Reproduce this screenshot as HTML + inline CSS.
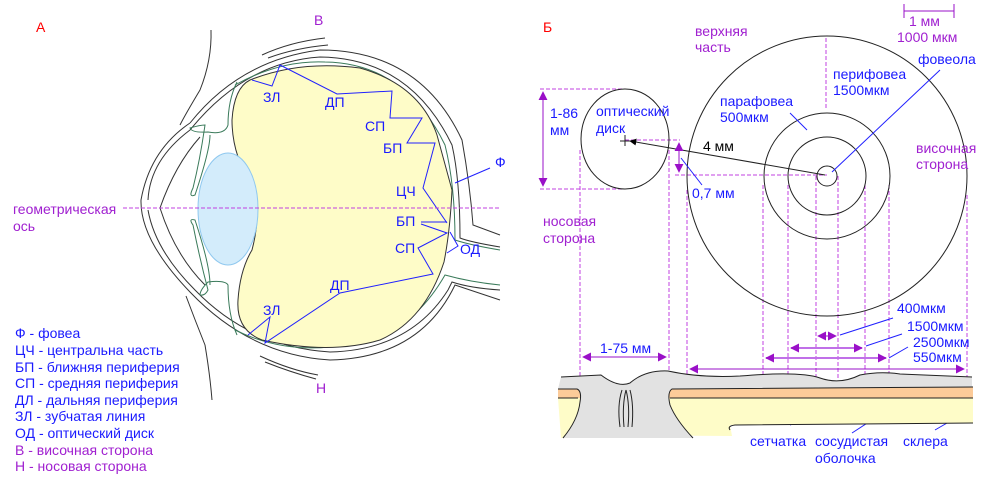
<!DOCTYPE html>
<html><head><meta charset="utf-8"><style>
html,body{margin:0;padding:0;background:#fff;width:987px;height:481px;overflow:hidden}
svg{display:block}
text{font-family:"Liberation Sans",sans-serif;font-size:14px}
.b{fill:#1a1aff}.p{fill:#a020d0}.r{fill:#f00}
</style></head><body>
<svg width="987" height="481" viewBox="0 0 987 481" xmlns="http://www.w3.org/2000/svg">
<defs>
<marker id="pa" viewBox="0 0 10 10" refX="9" refY="5" markerUnits="userSpaceOnUse" markerWidth="9" markerHeight="9" orient="auto-start-reverse"><path d="M0,0 L10,5 L0,10 z" fill="#9a10c8"/></marker>
<marker id="ka" viewBox="0 0 10 10" refX="9" refY="5" markerUnits="userSpaceOnUse" markerWidth="7" markerHeight="7" orient="auto-start-reverse"><path d="M0,0 L10,5 L0,10 z" fill="#000"/></marker>
</defs>
<!-- Eye A -->
<g fill="none" stroke="#333" stroke-width="1">
<path d="M211,30 Q212,60 200,90 Q185,115 180,125"/>
<path d="M186,296 Q195,320 205,345 Q210,375 212,400"/>
<path d="M262,55 Q290,42 325,38"/>
<path d="M268,58 Q295,48 328,45"/>
<path d="M260,356 Q290,370 318,375"/>
<path d="M265,362 Q290,372 316,379"/>
<path d="M190,123 Q150,150 141,200 Q140,240 190,292 Q250,355 330,360 Q420,358 455,285 L500,300"/>
<path d="M190,123 Q240,60 320,50 Q420,50 462,140 Q470,185 473,225 L500,235"/>
<path d="M148,200 Q150,160 190,130 Q245,62 320,57 Q410,58 452,145 Q460,180 460,238 Q470,242 500,247"/>
<path d="M148,210 Q155,250 195,290 Q250,347 330,352 Q410,350 448,290 L452,282 Q470,288 500,290"/>
<path d="M200,137 Q175,165 160,208 Q175,255 205,285"/>
</g>
<g fill="none" stroke="#3a7a5a" stroke-width="1">
<path d="M235,85 Q280,60 325,62 Q405,63 445,145 Q455,185 455,240 Q470,245 500,250"/>
<path d="M235,330 Q280,352 330,347 Q405,345 445,275 Q470,282 500,285"/>
<path d="M237,82 Q228,100 228,125 Q225,135 208,132 Q192,133 190,128 Q200,125 205,125 Q200,160 193,188 Q188,198 195,195 Q210,150 210,135"/>
<path d="M237,335 Q228,315 228,285 Q225,280 208,282 Q200,290 200,295 Q205,296 208,290 Q200,260 193,225 Q188,218 195,220 Q210,265 210,285"/>
</g>
<path d="M250,80 Q300,60 360,68 Q420,85 437,135 L452,190 Q450,232 444,262 Q425,320 380,340 Q330,355 262,340 Q236,330 238,300 Q240,270 252,250 Q262,212 252,185 Q232,155 232,120 Q234,88 250,80 Z" fill="#fefcc8" stroke="#333" stroke-width="1"/>
<ellipse cx="228" cy="209" rx="30" ry="56" fill="#d3ecfb" stroke="#8fc8ef" stroke-width="1"/>
<g fill="none" stroke="#2020ff" stroke-width="1">
<polyline points="252,80 272,86 280,65 337,94 392,91 390,118 422,118 407,143 435,143 423,188 447,223"/>
<polyline points="421,222 447,222"/>
<polyline points="421,224 447,233 418,248 433,274 340,293 265,343 270,317 248,335"/>
<polyline points="455,183 490,168"/>
<polyline points="447,253 458,246 450,232"/>
</g>
<line x1="123" y1="208" x2="500" y2="208" stroke="#c040e0" stroke-dasharray="4,2" stroke-width="1"/>
<text x="36" y="32" class="r">А</text>
<text x="314" y="25" class="p">В</text>
<text x="316" y="393" class="p">Н</text>
<text x="13" y="214" class="p">геометрическая</text>
<text x="13" y="231" class="p">ось</text>
<g class="b">
<text x="263" y="102">ЗЛ</text><text x="325" y="107">ДП</text>
<text x="365" y="131">СП</text><text x="383" y="153">БП</text>
<text x="396" y="196">ЦЧ</text><text x="396" y="226">БП</text>
<text x="395" y="253">СП</text><text x="460" y="254">ОД</text>
<text x="495" y="167">Ф</text>
<text x="330" y="290">ДП</text><text x="263" y="315">ЗЛ</text>
<text x="15" y="338">Ф - фовеа</text>
<text x="15" y="355">ЦЧ - центральна часть</text>
<text x="15" y="372">БП - ближняя периферия</text>
<text x="15" y="388">СП - средняя периферия</text>
<text x="15" y="405">ДЛ - дальняя периферия</text>
<text x="15" y="421">ЗЛ - зубчатая линия</text>
<text x="15" y="438">ОД - оптический диск</text>
</g>
<text x="15" y="455" class="p">В - височная сторона</text>
<text x="15" y="471" class="p">Н - носовая сторона</text>

<!-- B -->
<text x="543" y="32" class="r">Б</text>
<g fill="none" stroke="#c040e0" stroke-dasharray="4,2" stroke-width="1">
<line x1="580" y1="150" x2="580" y2="377"/><line x1="669" y1="150" x2="669" y2="377"/>
<line x1="687" y1="190" x2="687" y2="377"/><line x1="763" y1="185" x2="763" y2="377"/>
<line x1="788" y1="185" x2="788" y2="377"/><line x1="816" y1="176" x2="816" y2="380"/>
<line x1="838" y1="176" x2="838" y2="380"/><line x1="865" y1="185" x2="865" y2="377"/>
<line x1="889" y1="185" x2="889" y2="377"/><line x1="967" y1="195" x2="967" y2="377"/>
<line x1="826" y1="38" x2="826" y2="110"/>
<line x1="540" y1="89" x2="625" y2="89"/><line x1="540" y1="189" x2="625" y2="189"/>
<line x1="625" y1="140" x2="680" y2="140"/><line x1="675" y1="175" x2="827" y2="175"/>
</g>
<g fill="none" stroke="#222" stroke-width="1">
<circle cx="827" cy="176" r="140"/>
<circle cx="827" cy="176" r="63"/>
<circle cx="827" cy="176" r="39"/>
<circle cx="827" cy="176" r="10"/>
<ellipse cx="625" cy="139" rx="44" ry="50"/>
<line x1="825" y1="175" x2="630" y2="141" marker-end="url(#ka)"/>
<line x1="620" y1="141" x2="630" y2="141"/><line x1="625" y1="135" x2="625" y2="146"/>
</g>
<g stroke="#9a10c8" stroke-width="1" fill="none">
<line x1="543" y1="92" x2="543" y2="186" marker-start="url(#pa)" marker-end="url(#pa)"/>
<line x1="679" y1="143" x2="679" y2="172" marker-start="url(#pa)" marker-end="url(#pa)"/>
<line x1="583" y1="357" x2="666" y2="357" marker-start="url(#pa)" marker-end="url(#pa)"/>
<line x1="690" y1="369" x2="964" y2="369" marker-start="url(#pa)" marker-end="url(#pa)"/>
<line x1="766" y1="358" x2="886" y2="358" stroke="#c070e8" stroke-width="2" marker-start="url(#pa)" marker-end="url(#pa)"/>
<line x1="791" y1="348" x2="862" y2="348" stroke="#c070e8" stroke-width="2" marker-start="url(#pa)" marker-end="url(#pa)"/>
<line x1="818" y1="336" x2="836" y2="336" marker-start="url(#pa)" marker-end="url(#pa)"/>
<line x1="904" y1="11" x2="954" y2="11"/><line x1="904" y1="4" x2="904" y2="18"/><line x1="954" y1="4" x2="954" y2="18"/>
</g>
<g stroke="#2020ff" stroke-width="1" fill="none">
<line x1="940" y1="70" x2="832" y2="172"/>
<line x1="790" y1="113" x2="807" y2="130"/>
<line x1="681" y1="158" x2="702" y2="185"/>
<line x1="840" y1="335" x2="893" y2="318"/>
<line x1="866" y1="346" x2="902" y2="334"/>
<line x1="889" y1="358" x2="908" y2="347"/>
<line x1="790" y1="425" x2="887" y2="379"/>
<line x1="852" y1="433" x2="915" y2="392"/>
<line x1="935" y1="430" x2="966" y2="412"/>
</g>
<path d="M558,389 L973,387 L973,398 L558,398 Z" fill="#fccb99"/>
<path d="M558,398 L973,398 L973,423 L730,425 L732,436 L590,435 Q570,436 561,438 Z" fill="#fefcc8"/>
<path d="M561,377 L601,375 Q618,388 630,383 Q645,370 668,371 Q700,378 740,376 Q800,371 820,378 Q840,385 860,375 Q880,371 900,374 L972,377 L972,387 L672,389 Q667,392 670,405 Q676,420 693,438 L563,438 Q578,420 580,402 Q582,391 577,389 L558,389 Z" fill="#e2e2e2" stroke="none"/>
<g fill="none" stroke="#222" stroke-width="1">
<path d="M561,377 L601,375 Q618,388 630,383 Q645,370 668,371 Q700,378 740,376 Q800,371 820,378 Q840,385 860,375 Q880,371 900,374 L972,377"/>
<path d="M558,389 L577,389 Q582,391 580,402 Q578,420 563,438"/>
<path d="M558,398 L578,398"/>
<path d="M693,438 Q676,420 670,405 Q667,392 672,389 L973,387"/>
<path d="M670,398 L973,398"/>
<path d="M730,430 Q727,426 735,425 L973,423"/>
<path d="M620,427 Q617,405 622,390 M624,427 Q622,405 626,390 M628,427 Q630,405 626,390 M632,427 Q634,405 630,390"/>
</g>
<g class="b">
<text x="600" y="353">1-75 мм</text>
<text x="897" y="313">400мкм</text>
<text x="907" y="331">1500мкм</text>
<text x="913" y="347">2500мкм</text>
<text x="913" y="362">550мкм</text>
<text x="750" y="446">сетчатка</text>
<text x="815" y="446">сосудистая</text>
<text x="815" y="463">оболочка</text>
<text x="903" y="446">склера</text>
<text x="918" y="64">фовеола</text>
<text x="833" y="79">перифовеа</text>
<text x="833" y="95">1500мкм</text>
<text x="720" y="106">парафовеа</text>
<text x="720" y="122">500мкм</text>
<text x="596" y="116">оптический</text>
<text x="596" y="133">диск</text>
<text x="550" y="118">1-86</text>
<text x="550" y="135">мм</text>
<text x="692" y="198">0,7 мм</text>
</g>
<text x="703" y="151" fill="#000">4 мм</text>
<g class="p">
<text x="695" y="36">верхняя</text><text x="695" y="52">часть</text>
<text x="909" y="26">1 мм</text><text x="897" y="42">1000 мкм</text>
<text x="916" y="153">височная</text><text x="916" y="169">сторона</text>
<text x="543" y="226">носовая</text><text x="543" y="243">сторона</text>
</g>
</svg>
</body></html>
